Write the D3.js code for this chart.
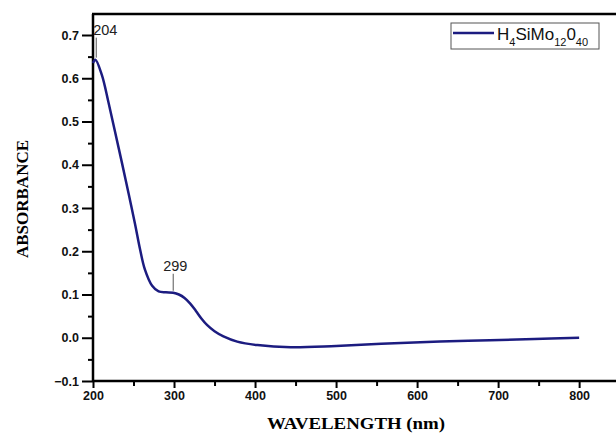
<!DOCTYPE html>
<html><head><meta charset="utf-8">
<script src="https://cdn.jsdelivr.net/npm/d3@7"></script>
<style>body{margin:0;background:#fff}svg{display:block}</style>
</head><body>
<script>
const wavelength = [200,203,211,219,227,236,244,252,258,264,273,281,290,299,306,313,320,327,334,341,350,361,378,403,444,500,580,663,745,800];
const absorbance = [0.635,0.643,0.607,0.545,0.478,0.402,0.333,0.262,0.205,0.158,0.12,0.107,0.105,0.104,0.100,0.092,0.079,0.062,0.044,0.029,0.015,0.003,-0.009,-0.017,-0.022,-0.019,-0.012,-0.007,-0.003,0.0];
const xTicks = [200,300,400,500,600,700,800];
const yTicks = [-0.1,0,0.1,0.2,0.3,0.4,0.5,0.6,0.7];
const peaks = [{wl:204, a:0.643, label:"204"},{wl:299, a:0.104, label:"299"}];

const W=616,H=434, L=93, T=14, R=616, B=381;
const svg=d3.select("body").append("svg").attr("width",W).attr("height",H);
const x=d3.scaleLinear().domain([200,845.5]).range([L,R]);
const y=d3.scaleLinear().domain([-0.1,0.7]).range([B,35]);

const xMinor=d3.range(250,850,100), yMinor=d3.range(-0.05,0.75,0.1);
svg.append("g").attr("transform",`translate(0,${B})`)
  .call(d3.axisBottom(x).tickValues(xMinor).tickSize(5).tickFormat(""))
  .call(g=>g.select(".domain").remove()).selectAll("line").attr("stroke","#000").attr("stroke-width",2);
svg.append("g").attr("transform",`translate(${L},0)`)
  .call(d3.axisLeft(y).tickValues(yMinor).tickSize(5).tickFormat(""))
  .call(g=>g.select(".domain").remove()).selectAll("line").attr("stroke","#000").attr("stroke-width",2);

const xa=svg.append("g").attr("transform",`translate(0,${B})`)
  .call(d3.axisBottom(x).tickValues(xTicks).tickSize(7).tickPadding(3).tickFormat(d3.format("d")));
const ya=svg.append("g").attr("transform",`translate(${L},0)`)
  .call(d3.axisLeft(y).tickValues(yTicks).tickSize(11).tickPadding(3).tickFormat(d3.format(".1f")));
[xa,ya].forEach(g=>{
  g.select(".domain").remove();
  g.selectAll("line").attr("stroke","#000").attr("stroke-width",2);
  g.selectAll("text").attr("font-family","Arial, 'Liberation Sans', sans-serif").attr("font-weight","bold").attr("font-size","12.5px").attr("fill","#111");
});
svg.append("line").attr("x1",L).attr("x2",R).attr("y1",B).attr("y2",B).attr("stroke","#000").attr("stroke-width",2.5);
svg.append("line").attr("x1",L).attr("x2",L).attr("y1",T).attr("y2",B+1).attr("stroke","#000").attr("stroke-width",2.5);
svg.append("line").attr("x1",L-1).attr("x2",R).attr("y1",T).attr("y2",T).attr("stroke","#000").attr("stroke-width",2.5);

const line=d3.line().x((d,i)=>x(wavelength[i])).y(d=>y(d)).curve(d3.curveCatmullRom.alpha(0.5));
svg.append("path").datum(absorbance).attr("d",line).attr("fill","none").attr("stroke","#1c1c80").attr("stroke-width",2.5);

peaks.forEach((p,i)=>{
  const px=x(p.wl), py=y(p.a);
  svg.append("line").attr("x1",px).attr("x2",px).attr("y1",py-2).attr("y2",py-(i==0?22:19)).attr("stroke","#555").attr("stroke-width",1);
  svg.append("text").attr("x",i==0?px-3:px-10).attr("y",py-(i==0?25:22)).text(p.label)
    .attr("font-family","Arial, 'Liberation Sans', sans-serif").attr("font-size","14.5px").attr("fill","#222");
});

svg.append("text").attr("x",356).attr("y",429).attr("text-anchor","middle")
  .attr("font-family","'Times New Roman','Liberation Serif',serif").attr("font-weight","bold").attr("font-size","16px")
  .attr("textLength",178).attr("lengthAdjust","spacingAndGlyphs").text("WAVELENGTH (nm)");
svg.append("text").attr("transform","translate(28,199) rotate(-90)").attr("text-anchor","middle")
  .attr("font-family","'Times New Roman','Liberation Serif',serif").attr("font-weight","bold").attr("font-size","16px")
  .attr("textLength",118).attr("lengthAdjust","spacingAndGlyphs").text("ABSORBANCE");

const lg=svg.append("g");
lg.append("rect").attr("x",451).attr("y",23).attr("width",148).attr("height",26).attr("fill","#fff").attr("stroke","#555").attr("stroke-width",1);
lg.append("line").attr("x1",453).attr("x2",494).attr("y1",33).attr("y2",33).attr("stroke","#1c1c80").attr("stroke-width",2.5);
const t=lg.append("text").attr("x",497).attr("y",40).attr("font-family","Arial, 'Liberation Sans', sans-serif").attr("font-size","17px").attr("fill","#111");
t.append("tspan").text("H");
t.append("tspan").attr("dy",6).attr("font-size","11px").text("4");
t.append("tspan").attr("dy",-6).text("SiMo");
t.append("tspan").attr("dy",6).attr("font-size","11px").text("12");
t.append("tspan").attr("dy",-6).text("0");
t.append("tspan").attr("dy",6).attr("font-size","11px").text("40");
</script>
</body></html>
